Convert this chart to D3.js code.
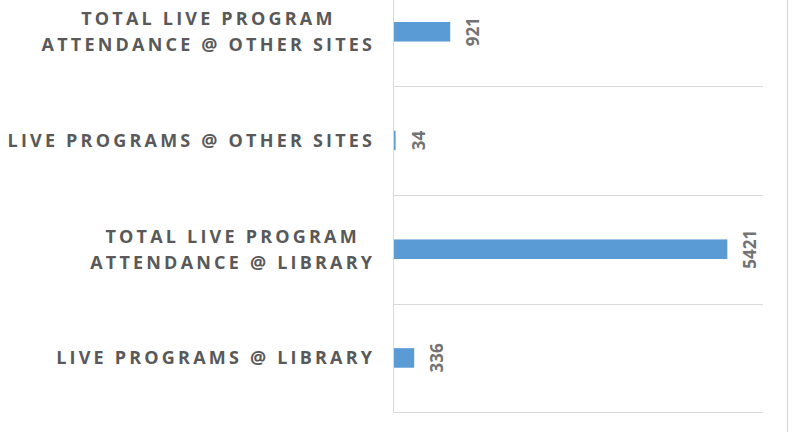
<!DOCTYPE html>
<html>
<head>
<meta charset="utf-8">
<script src="https://cdn.jsdelivr.net/npm/d3@7"></script>
<style>
  html, body { margin: 0; padding: 0; background: #fff; }
  svg { display: block; }
</style>
</head>
<body>
<svg id="chart" width="792" height="432"></svg>
<script>
// Data (top to bottom as drawn)
const categories = [
  ["TOTAL LIVE PROGRAM", "ATTENDANCE @ OTHER SITES"],
  ["LIVE PROGRAMS @ OTHER SITES"],
  ["TOTAL LIVE PROGRAM", "ATTENDANCE @ LIBRARY"],
  ["LIVE PROGRAMS @ LIBRARY"]
];
const values = [921, 34, 5421, 336];
const xMax = 6000;

const width = 792, height = 432;
const svg = d3.select("#chart");

const x = d3.scaleLinear().domain([0, xMax]).range([393.5, 763]);
const y = d3.scaleBand()
  .domain(d3.range(categories.length))
  .range([-22.6, 412.3])
  .paddingInner(0.82)
  .paddingOuter(0.41);
const step = y.step();

// chart border on the right (the picture is cropped from a larger chart)
svg.append("line")
  .attr("x1", 787.5).attr("x2", 787.5)
  .attr("y1", 0).attr("y2", height)
  .attr("stroke", "#d9d9d9").attr("stroke-width", 1.2);

// category separators
svg.append("g")
  .selectAll("line")
  .data(d3.range(1, categories.length + 1))
  .enter()
  .append("line")
  .attr("x1", x(0)).attr("x2", x(xMax))
  .attr("y1", i => Math.round(y.range()[0] + i * step) + 0.5)
  .attr("y2", i => Math.round(y.range()[0] + i * step) + 0.5)
  .attr("stroke", "#d9d9d9").attr("stroke-width", 1);

// axis line
svg.append("line")
  .attr("x1", x(0)).attr("x2", x(0))
  .attr("y1", 0).attr("y2", Math.round(y.range()[1]) + 0.5)
  .attr("stroke", "#d9d9d9").attr("stroke-width", 1);

// bars
svg.append("g")
  .selectAll("rect")
  .data(values)
  .enter()
  .append("rect")
  .attr("x", x(0) + 0.5)
  .attr("y", (d, i) => y(i))
  .attr("width", d => x(d) - x(0) - 0.5)
  .attr("height", y.bandwidth())
  .attr("fill", "#5b9bd5");

// value labels, rotated
svg.append("g")
  .selectAll("text")
  .data(values)
  .enter()
  .append("text")
  .attr("transform", (d, i) => `translate(${x(d) + 29},${y(i) + y.bandwidth() / 2}) rotate(-90)`)
  .attr("text-anchor", "middle")
  .attr("font-family", "'Open Sans', 'Noto Sans', sans-serif")
  .attr("font-weight", "bold")
  .attr("font-size", 17)
  .attr("fill", "#737373")
  .text(d => d);

// category labels
const labelRight = 372;
const lineH = 26;
const spacing = 3.2;
categories.forEach((lines, i) => {
  const cy = y(i) + y.bandwidth() / 2;
  const g = svg.append("g");
  const texts = g.selectAll("text")
    .data(lines)
    .enter()
    .append("text")
    .attr("font-family", "'Open Sans', 'Noto Sans', sans-serif")
    .attr("font-weight", "bold")
    .attr("font-size", 18)
    .attr("letter-spacing", spacing)
    .attr("fill", "#595959")
    .attr("text-anchor", "middle")
    .text(d => d);
  const widths = [];
  texts.each(function () { widths.push(this.getComputedTextLength() - spacing); });
  const maxW = d3.max(widths);
  const cx = labelRight - maxW / 2;
  const top = cy - (lines.length - 1) * lineH / 2;
  texts
    .attr("x", cx + spacing / 2)
    .attr("y", (d, j) => top + j * lineH + 6.5);
});
</script>
</body>
</html>
